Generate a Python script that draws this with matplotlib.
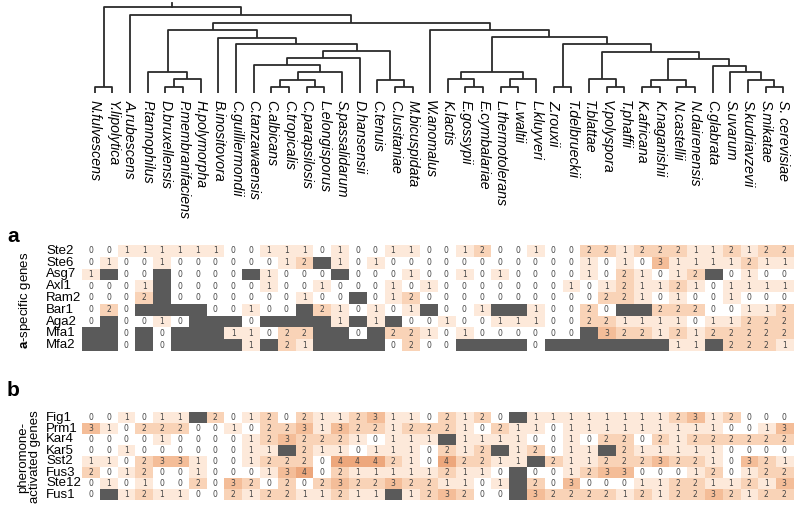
import numpy as np
import matplotlib.pyplot as plt
from matplotlib.colors import ListedColormap
from matplotlib.transforms import blended_transform_factory

plt.rcParams['font.family'] = ['Liberation Sans', 'DejaVu Sans']
plt.rcParams['mathtext.fontset'] = 'custom'
plt.rcParams['mathtext.rm'] = 'Liberation Sans'
plt.rcParams['mathtext.bf'] = 'Liberation Sans:bold'


#+++++ data
species = ["N.fulvescens", "Y.lipolytica", "A.rubescens", "P.tannophilus", "D.bruxellensis",
           "P.membranifaciens", "H.polymorpha", "B.inositovora", "C.guilliermondii",
           "C.tanzawaensis", "C.albicans", "C.tropicalis", "C.parapsilosis", "L.elongisporus",
           "S.passalidarum", "D.hansensii", "C.tenuis", "C.lusitaniae", "M.bicuspidata",
           "W.anomalus", "K.lactis", "E.gossypii", "E.cymbalariae", "L.thermotolerans",
           "L.waltii", "L.kluyveri", "Z.rouxii", "T.delbrueckii", "T.blattae", "V.polyspora",
           "T.phaffii", "K.africana", "K.naganishii", "N.castellii", "N.dairenensis",
           "C.glabrata", "S.uvarum", "S.kudriavzevii", "S.mikatae", "S. cerevisiae"]

# dendrogram nodes: (height, left, right)
candida = (42, (35, (28, "C.tanzawaensis",
                     (21, (13, (6, "C.albicans", "C.tropicalis"), (6, "C.parapsilosis", "L.elongisporus")),
                      "S.passalidarum")), "D.hansensii"),
           (13, "C.tenuis", (6, "C.lusitaniae", "M.bicuspidata")))
left_clade = (63, (21, "P.tannophilus", (14, (6, "D.bruxellensis", "P.membranifaciens"), "H.polymorpha")),
              (55, "B.inositovora", (49, "C.guilliermondii", candida)))
saccharo = (34, (13, (6, "K.africana", "K.naganishii"), (6, "N.castellii", "N.dairenensis")),
            (27, "C.glabrata", (21, "S.uvarum", (13, "S.kudriavzevii", (6, "S.mikatae", "S. cerevisiae")))))
right_clade = (63, "W.anomalus",
               (56, (21, (14, "K.lactis", (6, "E.gossypii", "E.cymbalariae")),
                     (14, (6, "L.thermotolerans", "L.waltii"), "L.kluyveri")),
                (49, (6, "Z.rouxii", "T.delbrueckii"),
                 (41, (14, "T.blattae", (6, "V.polyspora", "T.phaffii")), saccharo))))
tree = (86, (6, "N.fulvescens", "Y.lipolytica"), (78, "A.rubescens", (70, left_clade, right_clade)))

a_genes = ["Ste2", "Ste6", "Asg7", "Axl1", "Ram2", "Bar1", "Aga2", "Mfa1", "Mfa2"]
a_counts = [
    "0 0 1 1 1 1 1 1 0 0 1 1 1 0 1 0 0 1 1 0 0 1 2 0 0 1 0 0 2 2 1 2 2 2 1 1 2 1 2 2",
    "0 1 0 0 1 0 0 0 0 0 0 1 2 x 1 0 1 0 0 0 0 0 0 0 0 0 0 0 1 0 1 0 3 1 1 1 1 2 1 1",
    "1 x 0 0 x 0 0 0 0 x 1 0 0 0 x 0 0 0 1 0 0 1 0 1 0 0 0 0 1 0 2 1 0 1 2 x 0 1 0 0",
    "0 0 0 1 x 0 0 0 0 0 1 0 0 1 0 0 0 1 0 1 0 0 0 0 0 0 0 1 0 1 2 1 1 2 1 0 1 1 1 1",
    "0 0 0 2 x 0 0 0 0 0 0 0 1 0 0 x 0 1 2 0 0 0 0 0 0 0 0 0 0 2 2 1 0 1 0 0 1 0 0 0",
    "0 2 0 x x x x 0 0 1 0 0 x 2 1 0 1 0 1 x 0 0 1 x x 1 0 0 2 0 x x 2 2 2 0 0 1 1 2",
    "0 x 0 0 1 0 x x x 0 x x x x 1 x 1 x 0 0 1 0 0 1 1 1 0 0 2 2 1 1 1 1 0 1 1 2 2 2",
    "x x 0 x 0 x x x 1 1 0 2 2 x x 0 x 2 2 1 0 1 0 0 0 0 0 0 x 3 2 2 1 2 1 2 2 2 2 2",
    "x x 0 x 0 x x x x 1 x 2 1 x x x x 0 2 0 0 x x x x 0 x x x x x x x 1 1 x 2 2 2 1",
]

b_genes = ["Fig1", "Prm1", "Kar4", "Kar5", "Sst2", "Fus3", "Ste12", "Fus1"]
b_counts = [
    "0 0 1 0 1 1 x 2 0 1 2 0 2 1 1 2 3 1 1 0 2 1 2 0 x 1 1 1 1 1 1 1 1 2 3 1 2 0 0 0",
    "3 1 0 2 2 2 0 0 1 0 2 2 3 1 3 2 2 1 2 2 2 1 0 2 1 1 0 1 1 1 1 1 1 1 1 1 0 0 1 3",
    "0 0 0 0 1 0 0 0 0 1 2 3 2 2 2 1 0 1 1 1 x 1 1 1 1 0 0 1 0 2 2 0 2 1 2 2 2 2 2 2",
    "0 0 1 0 0 0 0 0 0 1 1 x 2 1 1 0 1 1 1 0 2 1 2 x 1 2 0 1 1 x 2 1 1 1 1 1 0 0 0 0",
    "1 1 0 2 3 3 1 0 0 1 2 2 2 0 4 4 4 2 1 0 4 2 2 1 1 x 2 1 1 2 2 2 3 2 2 1 0 3 2 1",
    "2 0 1 2 0 0 1 0 0 0 1 3 4 0 2 1 1 1 1 1 2 1 1 0 x 0 0 1 2 3 3 0 0 0 1 2 0 1 2 2",
    "0 1 0 1 0 0 2 0 3 2 0 2 0 2 3 2 2 3 2 2 1 1 0 1 x 2 0 3 0 0 0 1 1 2 2 1 1 2 1 3",
    "0 x 1 2 1 1 0 0 2 1 2 2 1 1 2 1 1 x 1 2 3 2 0 0 x 3 2 2 2 2 1 2 1 2 2 3 2 1 2 2",
]
#-----

shades = ["#ffffff", "#fde9da", "#f9d3b7", "#f4bd98", "#eda77c"]
missing = "#5a5a5a"
line_col = "#2b2b2b"
W, H = 800, 508


def parse(rows):
    return np.array([[np.nan if v == "x" else float(v) for v in r.split()] for r in rows])


def draw_tree(ax, node):
    if isinstance(node, str):
        return species.index(node), 0
    h, left, right = node
    xl, hl = draw_tree(ax, left)
    xr, hr = draw_tree(ax, right)
    ax.plot([xl, xl, xr, xr], [hl, h, h, hr], color=line_col, lw=1.3, solid_capstyle="butt")
    return (xl + xr) / 2, h


def heatmap(ax, vals, genes):
    cmap = ListedColormap(shades)
    cmap.set_bad(missing)
    ax.imshow(np.ma.masked_invalid(vals), cmap=cmap, vmin=-0.5, vmax=4.5,
              aspect="auto", interpolation="nearest")
    for i in range(vals.shape[0]):
        for j in range(vals.shape[1]):
            if not np.isnan(vals[i, j]):
                ax.text(j, i, "%d" % vals[i, j], ha="center", va="center",
                        fontsize=5.5, color="#444444", family="DejaVu Sans")
    tr = blended_transform_factory(fig.transFigure, ax.transData)
    for i, g in enumerate(genes):
        ax.text(46 / W, i, g, transform=tr, ha="left", va="center", fontsize=9.5)
    ax.axis("off")


fig = plt.figure(figsize=(W / 100, H / 100), dpi=100)

# dendrogram
axd = fig.add_axes([86 / W, 1 - 93 / H, (792 - 86) / W, 93 / H])
rx, rh = draw_tree(axd, tree)
axd.plot([rx, rx], [rh, rh + 4], color=line_col, lw=1.3)
axd.set_xlim(-0.5, len(species) - 0.5)
axd.set_ylim(0, 93)
axd.axis("off")
for i, s in enumerate(species):
    axd.annotate(s, (i, 0), xytext=(0, -5), textcoords="offset points",
                 rotation=-90, ha="center", va="top", fontsize=10.2, style="italic",
                 annotation_clip=False)

# heatmap a
axa = fig.add_axes([82 / W, 1 - 351 / H, 711 / W, 106 / H])
heatmap(axa, parse(a_counts), a_genes)

# heatmap b
axb = fig.add_axes([82 / W, 1 - 500 / H, 711 / W, 88 / H])
heatmap(axb, parse(b_counts), b_genes)

fig.text(13 / W, 1 - 236 / H, "a", fontsize=15, fontweight="bold", ha="center", va="center")
fig.text(13 / W, 1 - 390 / H, "b", fontsize=15, fontweight="bold", ha="center", va="center")
fig.text(25 / W, 1 - 300 / H, r"$\mathbf{a}$-specific genes", rotation=90,
         ha="center", va="center", fontsize=9.5)
fig.text(29 / W, 1 - 457 / H, "pheromone-\nactivated genes", rotation=90,
         ha="center", va="center", fontsize=9.5, multialignment="center", linespacing=1.0)

fig.savefig("out.png", dpi=100)
